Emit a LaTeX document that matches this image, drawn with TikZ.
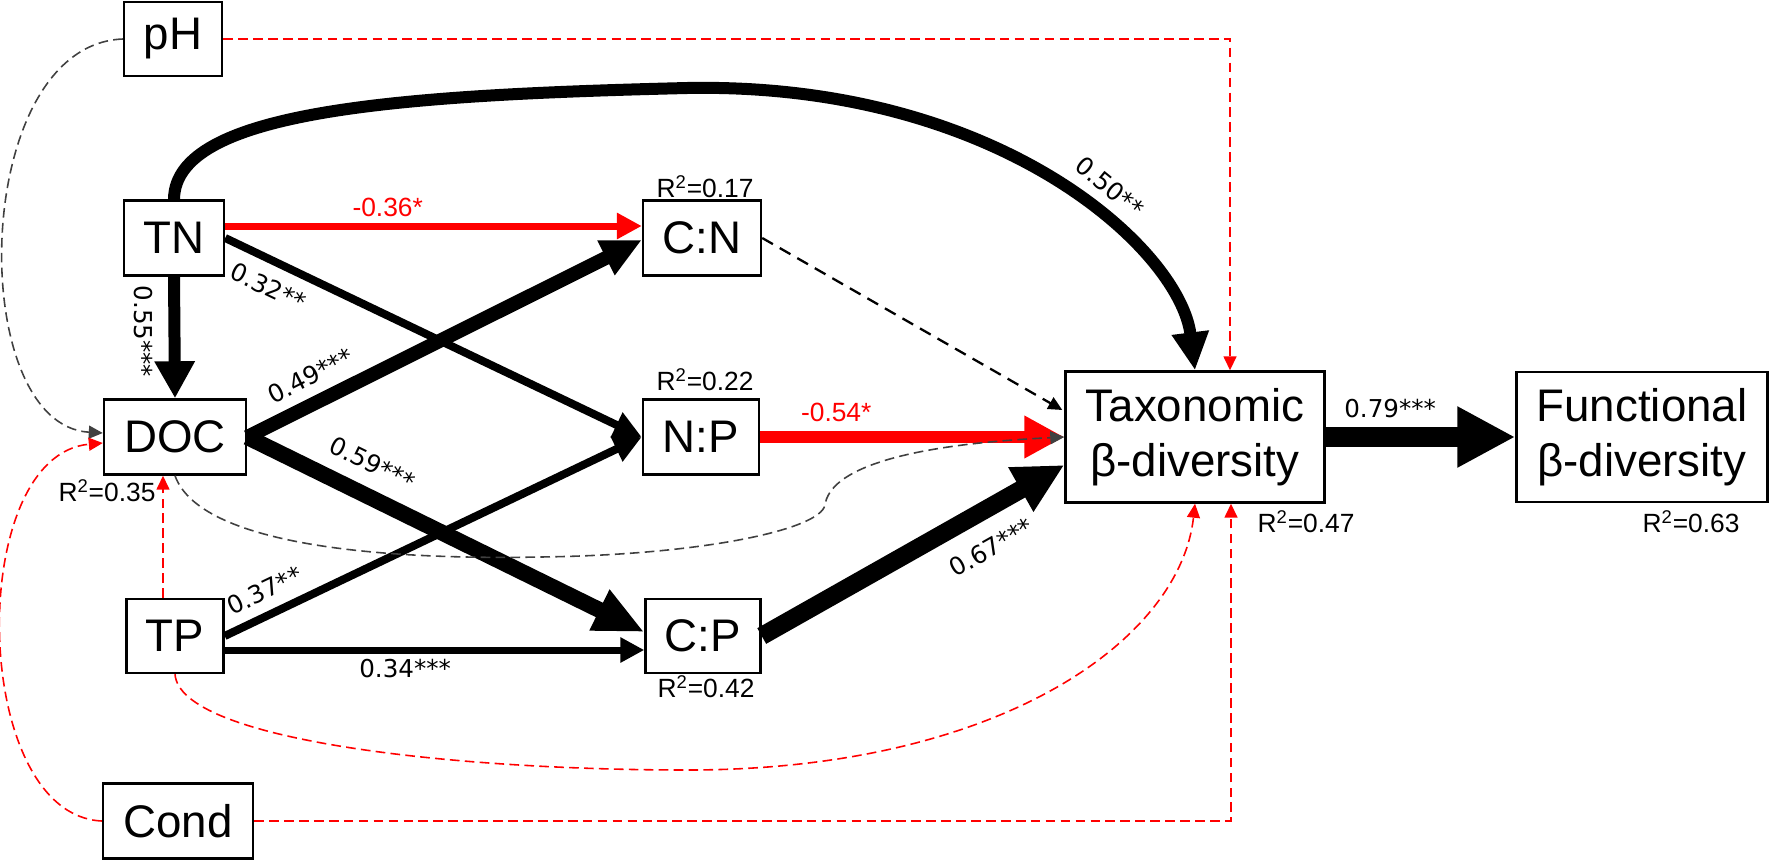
\documentclass[tikz,border=0pt]{standalone}
\usepackage{fontspec}
\setmainfont{Liberation Sans}
\newfontfamily\coeffont{DejaVu Sans}
\usetikzlibrary{arrows.meta}
\usetikzlibrary{calc}

\begin{document}
\begin{tikzpicture}[x=0.02cm,y=-0.02cm,
    var node/.style={draw,line width=1.4pt,rectangle,inner sep=0pt,align=center,font=\fontsize{26}{31}\selectfont},
    rsq/.style={inner sep=0pt,font=\fontsize{15}{18}\selectfont},
    coef/.style={inner sep=3pt,font=\coeffont\fontsize{14}{17}\selectfont},
    neg/.style={inner sep=3pt,text=red,font=\fontsize{15}{18}\selectfont},
    posline/.style={draw=black,line width=#1},
    negline/.style={draw=red,line width=#1},
    bighead/.style 2 args={-{Triangle[length=#1,width=#2]}},
    smallhead/.style={-{Triangle[length=0.28cm,width=0.26cm]}},
    cov/.style={line width=0.9pt,dash pattern=on 5.5pt off 3pt}]
  \useasboundingbox (0,0) rectangle (1771,863);

  % variables
  \node[var node,minimum width=1.96cm,minimum height=1.48cm] (pH) at (173,39) {pH};
  \node[var node,minimum width=2.0cm,minimum height=1.5cm] (TN) at (174,238) {TN};
  \node[var node,minimum width=2.84cm,minimum height=1.5cm] (DOC) at (175,437) {DOC};
  \node[var node,minimum width=1.94cm,minimum height=1.48cm] (TP) at (175,636) {TP};
  \node[var node,minimum width=3.0cm,minimum height=1.5cm] (Cond) at (178,821) {Cond};
  \node[var node,minimum width=2.36cm,minimum height=1.5cm] (CN) at (702,238) {C:N};
  \node[var node,minimum width=2.32cm,minimum height=1.5cm] (NP) at (701,437) {N:P};
  \node[var node,minimum width=2.3cm,minimum height=1.48cm] (CP) at (703,636) {C:P};
  \node[var node,minimum width=5.18cm,minimum height=2.62cm] (Tax) at (1195,437) {Taxonomic\\β-diversity};
  \node[var node,minimum width=5.02cm,minimum height=2.6cm] (Func) at (1642,437) {Functional\\β-diversity};

  % explained variance
  \node[rsq] (rCN) at (705,187) {R\textsuperscript{2}=0.17};
  \node[rsq] (rNP) at (705,380) {R\textsuperscript{2}=0.22};
  \node[rsq] (rCP) at (706,687) {R\textsuperscript{2}=0.42};
  \node[rsq] (rDOC) at (107,491) {R\textsuperscript{2}=0.35};
  \node[rsq] (rTax) at (1306,522) {R\textsuperscript{2}=0.47};
  \node[rsq] (rFunc) at (1691,522) {R\textsuperscript{2}=0.63};

  \coordinate (phin) at ($(Tax.north)+(35,0)$);
  \coordinate (condin) at ($(Tax.south)+(36,0)$);

  % non-significant / negative covariances
  \draw[cov,darkgray,smallhead] (pH.west) .. controls (-30,45) and (-35,425) .. ($(DOC.west)+(0,-4)$);
  \draw[cov,red,smallhead] (Cond.west) .. controls (-30,815) and (-35,455) .. ($(DOC.west)+(0,6)$);
  \draw[cov,red,smallhead] (pH.east) -| (phin);
  \draw[cov,red,smallhead] (Cond.east) -| (condin);
  \draw[cov,red,smallhead] ($(TP.north)+(-12,0)$) -- ($(DOC.south)+(-12,0)$);
  \draw[cov,red,smallhead] (TP.south) .. controls (180,740) and (450,770) .. (687,770) .. controls (1000,770) and (1180,640) .. (Tax.south);
  \draw[line width=1.3pt,dash pattern=on 7pt off 4.5pt,smallhead] (CN.east) -- ($(Tax.west)+(-2,-27)$);

  % paths
  \draw[posline=0.24cm,bighead={0.74cm}{0.76cm}] (TN.south) -- node[coef,pos=0.45,xshift=-0.62cm,rotate=-90] {0.55***} (DOC.north);
  \draw[negline=0.14cm,bighead={0.5cm}{0.5cm}] ($(TN.east)+(0,-12)$) -- node[neg,pos=0.39,above] {-0.36*} ($(CN.west)+(0,-12)$);
  \draw[posline=0.16cm,bighead={0.56cm}{0.52cm}] (TN.east) -- node[coef,pos=0.13,sloped,below=4pt] {0.32**} (NP.west);
  \draw[posline=0.28cm,bighead={0.8cm}{0.72cm}] (DOC.east) -- node[coef,pos=0.19,sloped,above=3pt] {0.49***} ($(CN.west)+(0,2)$);
  \draw[posline=0.32cm,bighead={1.0cm}{0.84cm}] (DOC.east) -- node[coef,pos=0.28,sloped,above=5pt] {0.59***} ($(CP.west)+(0,-4)$);
  \draw[posline=0.16cm,bighead={0.56cm}{0.52cm}] (TP.east) -- node[coef,pos=0.12,sloped,above=3pt] {0.37**} (NP.west);
  \draw[posline=0.14cm,bighead={0.48cm}{0.48cm}] ($(TP.east)+(0,14)$) -- node[coef,pos=0.43,below] {0.34***} ($(CP.west)+(0,14)$);
  \draw[negline=0.24cm,bighead={0.8cm}{0.8cm}] (NP.east) -- node[neg,pos=0.25,above=2pt] {-0.54*} (Tax.west);
  \draw[posline=0.36cm,bighead={1.0cm}{0.95cm}] (CP.east) -- node[coef,pos=0.7,sloped,below=7pt] {0.67***} ($(Tax.west)+(0,28)$);
  \draw[posline=0.24cm,bighead={0.76cm}{0.7cm}] (TN.north) .. controls (175,110) and (400,95) .. (687,88) .. controls (1000,82) and (1180,250) .. node[coef,pos=0.58,sloped,above=5pt] {0.50**} (Tax.north);
  \draw[posline=0.4cm,bighead={1.16cm}{1.14cm}] (Tax.east) -- node[coef,pos=0.34,above=2pt] {0.79***} (Func.west);

  \draw[cov,darkgray,smallhead] (DOC.south) .. controls (200,545) and (380,560) .. (540,557) .. controls (700,555) and (820,530) .. (825,505) .. controls (830,470) and (900,445) .. (Tax.west);
\end{tikzpicture}
\end{document}
